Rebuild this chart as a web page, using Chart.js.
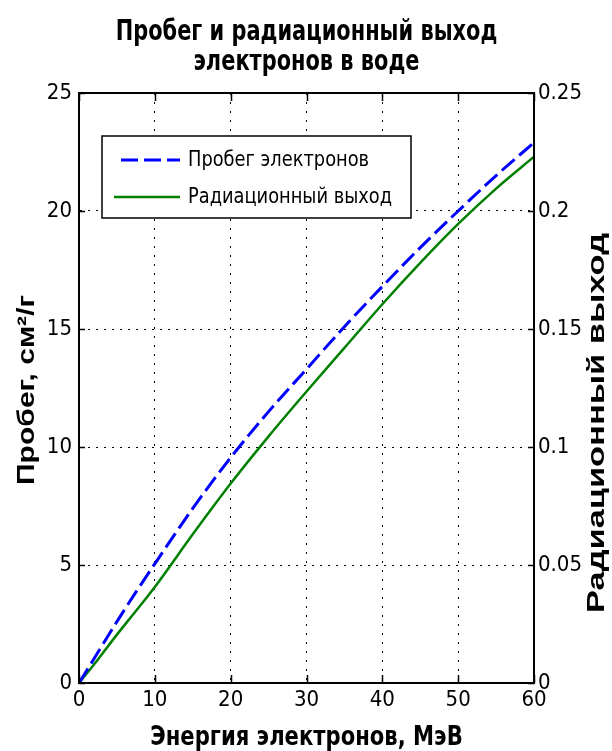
<!DOCTYPE html>
<html>
<head>
<meta charset="utf-8">
<script src="https://cdn.jsdelivr.net/npm/chart.js@4.4.1/dist/chart.umd.min.js"></script>
<style>
  html, body { margin: 0; padding: 0; background: #fff; }
  #wrap { width: 612px; height: 751px; }
</style>
</head>
<body>
<div id="wrap"><canvas id="chart"></canvas></div>
<script>
// Electron energy, MeV
const energy = [0, 2.5, 5, 7.5, 10, 15, 20, 25, 30, 35, 40, 45, 50, 55, 60];
// Range in water, g/cm^2 (left axis)
const rangeValues = [0, 1.3, 2.6, 3.85, 5.05, 7.4, 9.55, 11.5, 13.3, 15.1, 16.8, 18.45, 20.0, 21.5, 22.9];
// Radiation yield (right axis)
const yieldValues = [0, 0.01, 0.0205, 0.0305, 0.0407, 0.063, 0.0845, 0.1045, 0.1235, 0.142, 0.1605, 0.178, 0.1945, 0.2095, 0.223];

const energyTicks = [0, 10, 20, 30, 40, 50, 60];
const rangeTicks = [0, 5, 10, 15, 20, 25];
const yieldTicks = [0, 0.05, 0.1, 0.15, 0.2, 0.25];

const titleLines = ['Пробег и радиационный выход', 'электронов в воде'];
const xTitle = 'Энергия электронов, МэВ';
const yTitle = 'Пробег, см²/г';
const y1Title = 'Радиационный выход';

const narrow = "'DejaVu Sans Condensed', 'DejaVu Sans', sans-serif";
const wide = "'Liberation Sans', sans-serif";

function setTicks(list) {
    return scale => { scale.ticks = list.map(v => ({ value: v })); };
}

// text squeezed horizontally, to get the tall narrow look of the original
function squeezed(ctx, text, x, y, font, sx) {
    ctx.save();
    ctx.translate(x, y);
    ctx.scale(sx, 1);
    ctx.font = font;
    ctx.fillStyle = '#000';
    ctx.textBaseline = 'middle';
    ctx.fillText(text, 0, 0);
    ctx.restore();
}

// MATLAB-like inward ticks and full box
const frameAndTicks = {
    id: 'frameAndTicks',
    afterDatasetsDraw(chart) {
        const { ctx, chartArea: a, scales } = chart;
        ctx.save();
        ctx.strokeStyle = '#000';
        ctx.lineWidth = 1.5;
        ctx.beginPath();
        scales.x.ticks.forEach(t => {
            const px = Math.round(scales.x.getPixelForValue(t.value)) + 0.5;
            ctx.moveTo(px, a.bottom); ctx.lineTo(px, a.bottom - 8);
            ctx.moveTo(px, a.top); ctx.lineTo(px, a.top + 8);
        });
        scales.y.ticks.forEach(t => {
            const py = Math.round(scales.y.getPixelForValue(t.value)) + 0.5;
            ctx.moveTo(a.left, py); ctx.lineTo(a.left + 6, py);
        });
        scales.y1.ticks.forEach(t => {
            const py = Math.round(scales.y1.getPixelForValue(t.value)) + 0.5;
            ctx.moveTo(a.right, py); ctx.lineTo(a.right - 6, py);
        });
        ctx.stroke();
        ctx.lineWidth = 2;
        ctx.strokeRect(a.left, a.top, a.right - a.left, a.bottom - a.top);
        ctx.restore();
    }
};

// Legend box inside the plot, upper left
const boxLegend = {
    id: 'boxLegend',
    afterDraw(chart) {
        const { ctx, chartArea: a } = chart;
        const left = a.left + 23, top = a.top + 43, w = 309, h = 82;
        ctx.save();
        ctx.fillStyle = '#fff';
        ctx.fillRect(left, top, w, h);
        ctx.strokeStyle = '#000';
        ctx.lineWidth = 1.5;
        ctx.strokeRect(left, top, w, h);
        chart.data.datasets.forEach((ds, i) => {
            const y = top + 24 + i * 37;
            ctx.strokeStyle = ds.borderColor;
            ctx.lineWidth = ds.borderWidth;
            ctx.setLineDash(ds.borderDash || []);
            ctx.beginPath();
            ctx.moveTo(left + (ds.borderDash ? 19 : 12), y);
            ctx.lineTo(left + 78, y);
            ctx.stroke();
            ctx.setLineDash([]);
            squeezed(ctx, ds.label, left + 86, y, '22px ' + narrow, 0.9);
        });
        ctx.restore();
    }
};

// Rotated axis titles, both reading bottom to top
function drawRotated(ctx, text, cx, cy, length) {
    ctx.save();
    ctx.translate(cx, cy);
    ctx.rotate(-Math.PI / 2);
    ctx.font = 'bold 24px ' + wide;
    const w = ctx.measureText(text).width;
    ctx.scale(length / w, 1);
    ctx.fillStyle = '#000';
    ctx.textAlign = 'center';
    ctx.textBaseline = 'middle';
    ctx.fillText(text, 0, 0);
    ctx.restore();
}

const textLayer = {
    id: 'textLayer',
    afterDraw(chart) {
        const { ctx, chartArea: a } = chart;
        const cx = (a.left + a.right) / 2;
        const titleFont = 'bold 28px ' + narrow;
        titleLines.forEach((line, i) => {
            ctx.save();
            ctx.font = titleFont;
            const w = ctx.measureText(line).width * 0.83;
            ctx.restore();
            squeezed(ctx, line, cx - w / 2, 33 + i * 30, titleFont, 0.83);
        });
        const xFont = 'bold 27px ' + narrow;
        ctx.save();
        ctx.font = xFont;
        const xw = ctx.measureText(xTitle).width * 0.87;
        ctx.restore();
        squeezed(ctx, xTitle, cx - xw / 2, 738, xFont, 0.87);
        drawRotated(ctx, yTitle, 27, 390, 190);
        drawRotated(ctx, y1Title, 597, 423, 380);
    }
};

const ctx = document.getElementById('chart').getContext('2d');

new Chart(ctx, {
    type: 'line',
    data: {
        datasets: [{
            label: 'Пробег электронов',
            data: energy.map((e, i) => ({ x: e, y: rangeValues[i] })),
            yAxisID: 'y',
            borderColor: '#0000ff',
            borderWidth: 3,
            borderDash: [17, 6],
            pointRadius: 0,
            cubicInterpolationMode: 'monotone'
        }, {
            label: 'Радиационный выход',
            data: energy.map((e, i) => ({ x: e, y: yieldValues[i] })),
            yAxisID: 'y1',
            borderColor: '#008000',
            borderWidth: 2.5,
            pointRadius: 0,
            cubicInterpolationMode: 'monotone'
        }]
    },
    options: {
        responsive: true,
        maintainAspectRatio: false,
        animation: false,
        devicePixelRatio: 1,
        layout: { padding: { top: 93 } },
        plugins: {
            legend: { display: false },
            tooltip: { enabled: false },
            title: { display: false }
        },
        scales: {
            x: {
                type: 'linear',
                min: 0,
                max: 60,
                afterBuildTicks: setTicks(energyTicks),
                afterFit: s => { s.height = 68; },
                grid: { color: '#000', lineWidth: 1, drawTicks: false },
                border: { display: true, color: '#000', width: 2, dash: [2, 7] },
                ticks: { color: '#000', font: { family: narrow, size: 22 }, padding: 4, maxRotation: 0, autoSkip: false }
            },
            y: {
                type: 'linear',
                position: 'left',
                min: 0,
                max: 25,
                afterBuildTicks: setTicks(rangeTicks),
                afterFit: s => { s.width = 79; },
                grid: { color: '#000', lineWidth: 1, drawTicks: false },
                border: { display: true, color: '#000', width: 2, dash: [2, 6] },
                ticks: { color: '#000', font: { family: narrow, size: 22 }, padding: 7, autoSkip: false }
            },
            y1: {
                type: 'linear',
                position: 'right',
                min: 0,
                max: 0.25,
                afterBuildTicks: setTicks(yieldTicks),
                afterFit: s => { s.width = 78; },
                grid: { drawOnChartArea: false, drawTicks: false },
                border: { display: true, color: '#000', width: 2 },
                ticks: {
                    color: '#000',
                    font: { family: narrow, size: 22 },
                    padding: 4,
                    autoSkip: false,
                    callback: v => String(+v.toFixed(2))
                }
            }
        }
    },
    plugins: [frameAndTicks, boxLegend, textLayer]
});
</script>
</body>
</html>
